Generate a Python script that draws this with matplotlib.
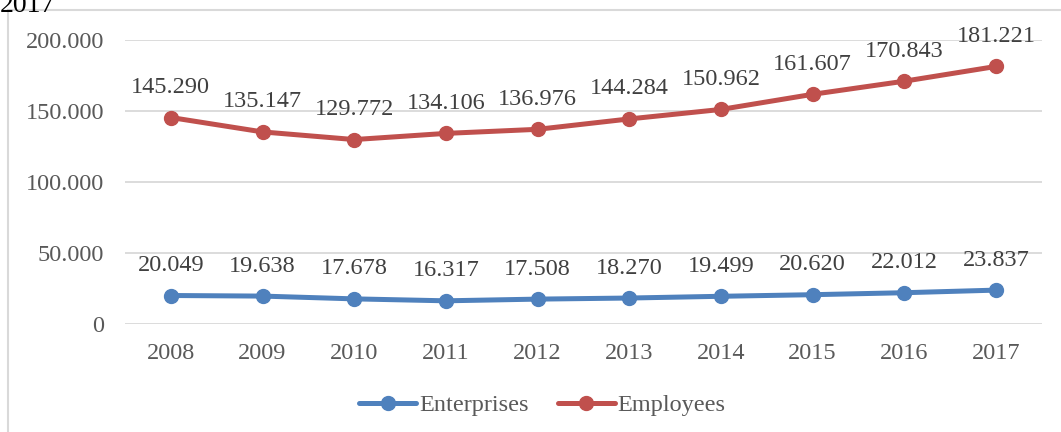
import matplotlib.pyplot as plt
from matplotlib.patches import Rectangle
from matplotlib.ticker import FuncFormatter

years = ["2008", "2009", "2010", "2011", "2012", "2013", "2014", "2015", "2016", "2017"]
enterprises = [20049, 19638, 17678, 16317, 17508, 18270, 19499, 20620, 22012, 23837]
employees = [145290, 135147, 129772, 134106, 136976, 144284, 150962, 161607, 170843, 181221]

plt.rcParams['font.family'] = ['Liberation Serif', 'DejaVu Serif']

fig = plt.figure(figsize=(10.61, 4.32), dpi=100)
ax = fig.add_axes([0.1178, 0.25, 0.8642, 0.658])

blue = "#4F81BD"
red = "#C0504D"

x = list(range(len(years)))
ax.plot(x, enterprises, color=blue, lw=3.6, marker="o", ms=10, label="Enterprises",
        solid_capstyle="round", zorder=3)
ax.plot(x, employees, color=red, lw=3.6, marker="o", ms=10, label="Employees",
        solid_capstyle="round", zorder=3)

def dotted(v, pos=None):
    return f"{int(v):,}".replace(",", ".")

for xi, v in zip(x, enterprises):
    ax.annotate(dotted(v), (xi, v), xytext=(0, 14), textcoords="offset points",
                ha="center", va="bottom", fontsize=17.5, color="#404040")
for xi, v in zip(x, employees):
    ax.annotate(dotted(v), (xi, v), xytext=(0, 14), textcoords="offset points",
                ha="center", va="bottom", fontsize=17.5, color="#404040")

ax.set_xlim(-0.5, len(years) - 0.5)
ax.set_ylim(0, 200000)
ax.set_yticks([0, 50000, 100000, 150000, 200000])
ax.yaxis.set_major_formatter(FuncFormatter(dotted))
ax.set_xticks(x)
ax.set_xticklabels(years)
ax.grid(axis="y", color="#D9D9D9", lw=1.3)
ax.set_axisbelow(True)
for s in ax.spines.values():
    s.set_visible(False)
ax.tick_params(length=0, labelsize=17.5, labelcolor="#595959")
ax.tick_params(axis="y", pad=15)
ax.tick_params(axis="x", pad=14)

ax.legend(loc="upper center", bbox_to_anchor=(0.455, -0.17), ncol=2, frameon=False,
          fontsize=17.5, labelcolor="#595959", handlelength=2.35, handletextpad=0.1,
          columnspacing=1.2)

# chart frame and the clipped caption above it
fig.patches.append(Rectangle((8 / 1061, -0.1), 1.2, 1 - 10 / 432 + 0.1,
                             transform=fig.transFigure, fill=False,
                             edgecolor="#D9D9D9", lw=1.5))
fig.text(0.0, 1 - 6 / 432, "2017", fontsize=20, color="black", ha="left", va="center")

fig.savefig("out.png", dpi=100)
